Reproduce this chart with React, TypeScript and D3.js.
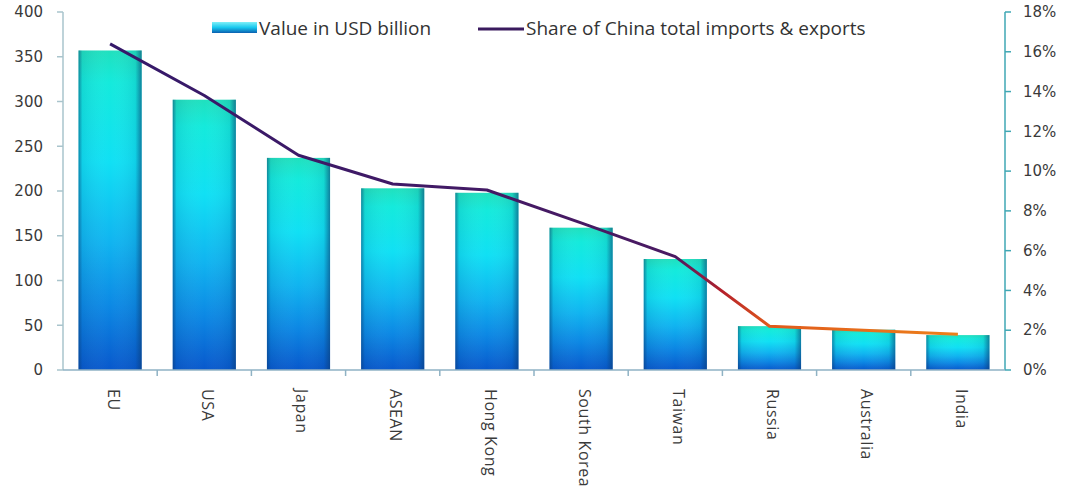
import React from "react";
import * as d3 from "d3";

const categories = ["EU", "USA", "Japan", "ASEAN", "Hong Kong", "South Korea", "Taiwan", "Russia", "Australia", "India"];
const valuesUSD = [357, 302, 237, 203, 198, 159, 124, 49, 45, 39];
const sharePct = [16.4, 13.8, 10.8, 9.35, 9.05, 7.4, 5.7, 2.2, 2.0, 1.8];
const leftTicks = [0, 50, 100, 150, 200, 250, 300, 350, 400];
const rightTicks = [0, 2, 4, 6, 8, 10, 12, 14, 16, 18];

const W = 1065;
const H = 486;
const M = { left: 63, right: 1005, top: 12, bottom: 370 };

export default function App() {
  const x = d3.scaleBand<string>().domain(categories).range([M.left, M.right]).paddingInner(0.33).paddingOuter(0.165);
  const xb = d3.scaleBand<string>().domain(categories).range([M.left, M.right]);
  const y = d3.scaleLinear().domain([0, 400]).range([M.bottom, M.top]);
  const y2 = d3.scaleLinear().domain([0, 18]).range([M.bottom, M.top]);
  const line = d3
    .line<number>()
    .x((_, i) => (xb(categories[i]) as number) + xb.bandwidth() / 2)
    .y((d) => y2(d));
  const cx = (i: number) => (xb(categories[i]) as number) + xb.bandwidth() / 2;
  const xTaiwan = cx(6);
  const xRussia = cx(7);
  const axisFont = "'DejaVu Sans', Verdana, sans-serif";
  const labelFont = "'Open Sans', 'Liberation Sans', sans-serif";
  return (
    <svg width={W} height={H} style={{ position: "absolute", left: 0, top: 0, background: "#fff" }}>
      <defs>
        <linearGradient id="barV" x1="0" y1="0" x2="0" y2="1">
          <stop offset="0" stopColor="#20e0be" />
          <stop offset="0.1" stopColor="#14eadc" />
          <stop offset="0.35" stopColor="#10e0f4" />
          <stop offset="0.6" stopColor="#10b4f0" />
          <stop offset="0.8" stopColor="#0c88e4" />
          <stop offset="1" stopColor="#0858cc" />
        </linearGradient>
        <linearGradient id="barH" x1="0" y1="0" x2="1" y2="0">
          <stop offset="0" stopColor="#0a3a70" stopOpacity="0.55" />
          <stop offset="0.06" stopColor="#0a3a70" stopOpacity="0.1" />
          <stop offset="0.5" stopColor="#ffffff" stopOpacity="0" />
          <stop offset="0.9" stopColor="#0a3a70" stopOpacity="0.1" />
          <stop offset="1" stopColor="#0a3a70" stopOpacity="0.6" />
        </linearGradient>
        <linearGradient id="lineG" gradientUnits="userSpaceOnUse" x1={M.left} y1="0" x2={M.right} y2="0">
          <stop offset="0" stopColor="#33196a" />
          <stop offset={(xTaiwan - M.left) / (M.right - M.left)} stopColor="#4a1a62" />
          <stop offset={((xTaiwan + xRussia) / 2 - M.left) / (M.right - M.left)} stopColor="#b5202a" />
          <stop offset={(xRussia - M.left) / (M.right - M.left)} stopColor="#e05a1c" />
          <stop offset="1" stopColor="#f08a1a" />
        </linearGradient>
        <linearGradient id="legBar" x1="0" y1="0" x2="0" y2="1">
          <stop offset="0" stopColor="#7ff0f8" />
          <stop offset="0.5" stopColor="#18c8ee" />
          <stop offset="1" stopColor="#0a5fb0" />
        </linearGradient>
      </defs>

      {/* bars */}
      {categories.map((c, i) => (
        <g key={c}>
          <rect x={x(c)} y={y(valuesUSD[i])} width={x.bandwidth()} height={M.bottom - y(valuesUSD[i])} fill="url(#barV)" />
          <rect x={x(c)} y={y(valuesUSD[i])} width={x.bandwidth()} height={M.bottom - y(valuesUSD[i])} fill="url(#barH)" />
        </g>
      ))}

      {/* left axis */}
      <line x1={M.left} x2={M.left} y1={M.top} y2={M.bottom} stroke="#a9c4cc" strokeWidth={1.5} />
      {leftTicks.map((t) => (
        <g key={"l" + t}>
          <line x1={M.left - 6} x2={M.left} y1={y(t)} y2={y(t)} stroke="#a9c4cc" strokeWidth={1.5} />
          <text x={43} y={y(t)} dy="0.35em" textAnchor="end" fontFamily={axisFont} fontSize={15} fill="#3a3a3a">
            {t}
          </text>
        </g>
      ))}

      {/* right axis */}
      <line x1={M.right} x2={M.right} y1={M.top} y2={M.bottom} stroke="#3fa7b4" strokeWidth={1.5} />
      {rightTicks.map((t) => (
        <g key={"r" + t}>
          <line x1={M.right} x2={M.right + 6} y1={y2(t)} y2={y2(t)} stroke="#3fa7b4" strokeWidth={1.5} />
          <text x={1023} y={y2(t)} dy="0.35em" textAnchor="start" fontFamily={axisFont} fontSize={15} fill="#3a3a3a">
            {t + "%"}
          </text>
        </g>
      ))}

      {/* bottom axis */}
      <line x1={M.left} x2={M.right} y1={M.bottom} y2={M.bottom} stroke="#8fb2c4" strokeWidth={1.5} />
      {categories.map((c, i) =>
        i === 0 ? null : (
          <line key={"bt" + c} x1={xb(c)} x2={xb(c)} y1={M.bottom} y2={M.bottom + 6} stroke="#8fb2c4" strokeWidth={1.5} />
        )
      )}
      {categories.map((c, i) => (
        <text
          key={"cl" + c}
          transform={`translate(${cx(i) + 2},${M.bottom + 19}) rotate(90)`}
          dominantBaseline="middle"
          fontFamily={labelFont}
          fontSize={16}
          letterSpacing={0.6}
          fill="#3a3a3a"
        >
          {c}
        </text>
      ))}

      {/* line */}
      <path d={line(sharePct) || ""} fill="none" stroke="url(#lineG)" strokeWidth={3} strokeLinejoin="round" />

      {/* legend */}
      <rect x={212} y={22} width={45} height={11} fill="url(#legBar)" />
      <text x={259} y={28} dy="0.35em" fontFamily={labelFont} fontSize={19} fill="#333">
        Value in USD billion
      </text>
      <line x1={478} x2={524} y1={29} y2={29} stroke="#3a1a5e" strokeWidth={3} />
      <text x={526} y={28} dy="0.35em" fontFamily={labelFont} fontSize={19} fill="#333">
        Share of China total imports &amp; exports
      </text>
    </svg>
  );
}
